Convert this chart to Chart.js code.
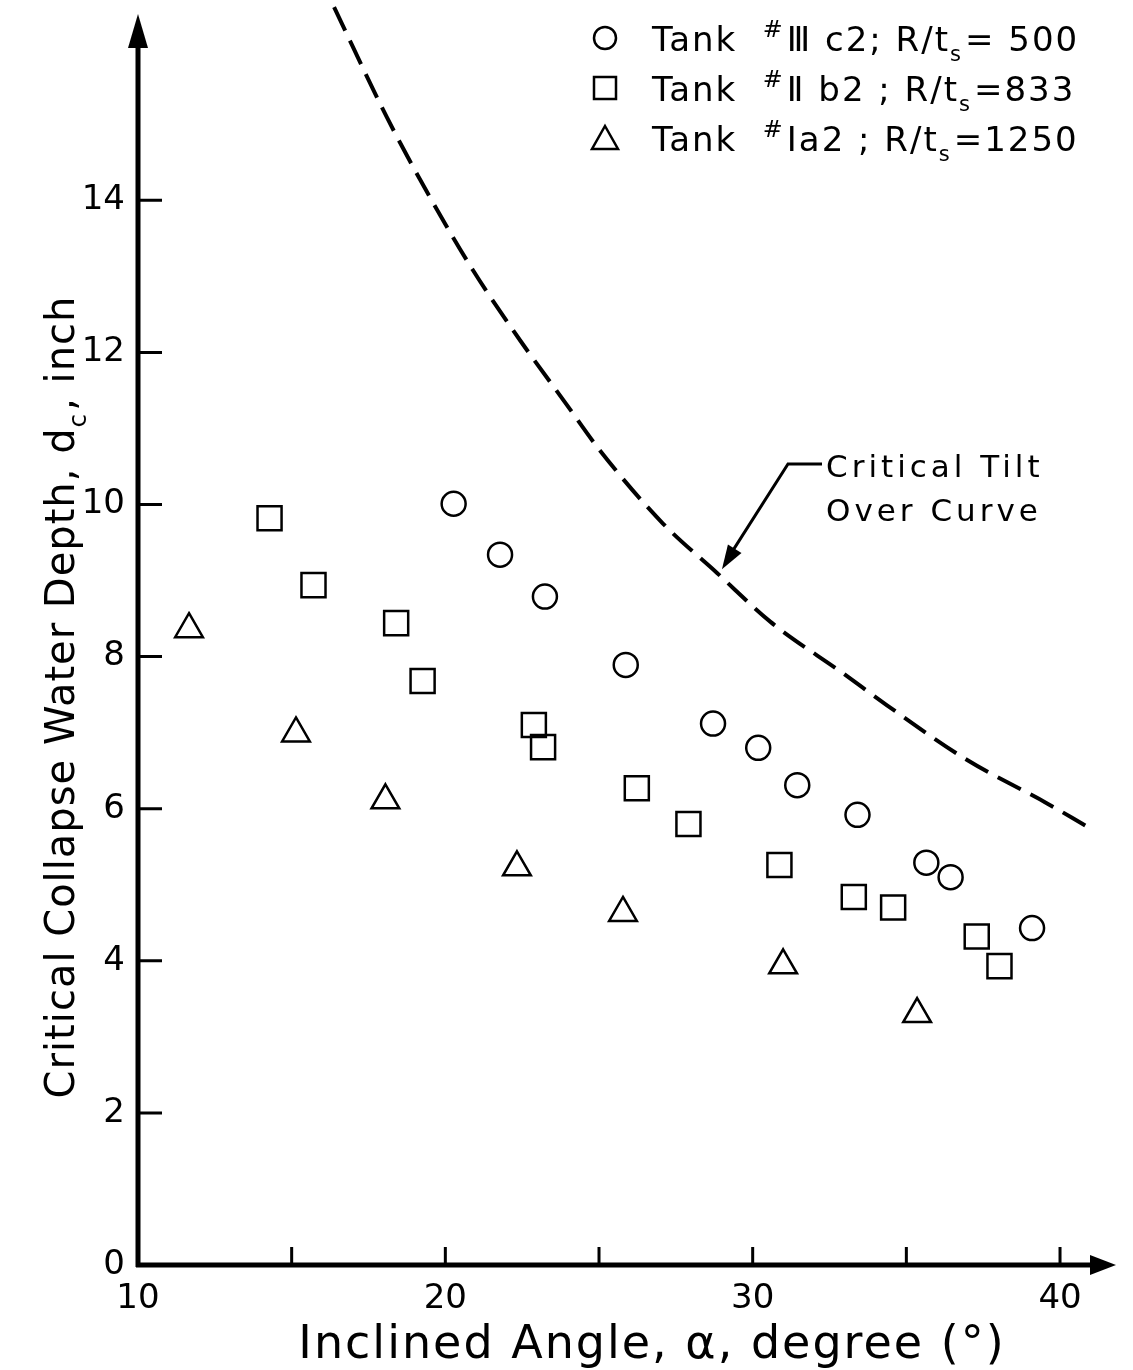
<!DOCTYPE html>
<html>
<head>
<meta charset="utf-8">
<script src="https://cdn.jsdelivr.net/npm/chart.js@4.4.0/dist/chart.umd.min.js"></script>
<style>
  html, body { margin: 0; padding: 0; background: #fff; }
  #wrap { width: 1133px; height: 1370px; }
</style>
</head>
<body>
<div id="wrap"><canvas id="tankChart" width="1133" height="1370"></canvas></div>
<script>
// Tank #IIIc2, R/ts = 500 (circles)
const tank3X = [20.27, 21.78, 23.24, 25.87, 28.71, 30.18, 31.45, 33.41, 35.65, 36.44, 39.09];
const tank3Y = [10.01, 9.34, 8.79, 7.89, 7.12, 6.80, 6.31, 5.92, 5.29, 5.10, 4.43];
// Tank #IIb2, R/ts = 833 (squares)
const tank2X = [14.28, 15.71, 18.40, 19.26, 22.88, 23.18, 26.23, 27.91, 30.87, 33.29, 34.57, 37.29, 38.03];
const tank2Y = [9.82, 8.94, 8.44, 7.68, 7.10, 6.81, 6.27, 5.80, 5.26, 4.84, 4.70, 4.32, 3.93];
// Tank #Ia2, R/ts = 1250 (triangles)
const tank1X = [11.66, 15.14, 18.05, 22.33, 25.78, 30.99, 35.35];
const tank1Y = [8.36, 6.99, 6.11, 5.23, 4.63, 3.94, 3.30];
// critical tilt over curve (dashed)
const curveX = [16.38, 18.10, 19.50, 20.90, 22.43, 23.90, 25.03, 27.08, 28.84, 30.57, 32.94, 34.37, 36.98, 39.58, 40.82];
const curveY = [16.54, 15.09, 14.04, 13.08, 12.16, 11.34, 10.71, 9.75, 9.10, 8.46, 7.78, 7.36, 6.64, 6.07, 5.78];

const xTicks = [10, 15, 20, 25, 30, 35, 40];
const xLabels = [10, 20, 30, 40];
const yTicks = [0, 2, 4, 6, 8, 10, 12, 14];

const FONT = "'DejaVu Sans', sans-serif";
const toPts = (xs, ys) => xs.map((x, i) => ({ x: x, y: ys[i] }));

function richText(ctx, parts, x, y, size) {
  // parts: [text, kind] kind = '' | 'sup' | 'sub'
  let cx = x;
  parts.forEach(([t, kind]) => {
    let s = size, dy = 0;
    if (kind === 'sup') { s = size * 0.7; dy = -size * 0.42; }
    if (kind === 'sub') { s = size * 0.62; dy = size * 0.3; }
    ctx.font = s + 'px ' + FONT;
    ctx.fillText(t, cx, y + dy);
    cx += ctx.measureText(t).width + (kind ? 2 : 0);
  });
}

const decor = {
  id: 'decor',
  afterDraw(chart) {
    const ctx = chart.ctx;
    const xs = chart.scales.x, ys = chart.scales.y;
    const ox = xs.getPixelForValue(10), oy = ys.getPixelForValue(0);
    ctx.save();
    ctx.strokeStyle = '#000';
    ctx.fillStyle = '#000';
    ctx.lineCap = 'butt';

    // axes
    ctx.lineWidth = 5;
    ctx.beginPath();
    ctx.moveTo(ox, oy + 2);
    ctx.lineTo(ox, 40);
    ctx.moveTo(ox - 2, oy);
    ctx.lineTo(1095, oy);
    ctx.stroke();
    // arrow heads
    ctx.beginPath();
    ctx.moveTo(ox, 14); ctx.lineTo(ox - 10, 48); ctx.lineTo(ox + 10, 48); ctx.closePath();
    ctx.fill();
    ctx.beginPath();
    ctx.moveTo(1116, oy); ctx.lineTo(1090, oy - 10); ctx.lineTo(1090, oy + 10); ctx.closePath();
    ctx.fill();

    // ticks (inside)
    ctx.lineWidth = 3;
    ctx.beginPath();
    yTicks.forEach(v => {
      if (v === 0) return;
      const py = ys.getPixelForValue(v);
      ctx.moveTo(ox, py); ctx.lineTo(ox + 24, py);
    });
    xTicks.forEach(v => {
      if (v === 10) return;
      const px = xs.getPixelForValue(v);
      ctx.moveTo(px, oy); ctx.lineTo(px, oy - 18);
    });
    ctx.stroke();

    // axis titles
    ctx.textBaseline = 'alphabetic';
    ctx.letterSpacing = '2px';
    ctx.font = '46px ' + FONT;
    ctx.textAlign = 'center';
    ctx.fillText('Inclined Angle, \u03b1, degree (\u00b0)', 652, 1358);

    ctx.save();
    ctx.translate(74, 697);
    ctx.rotate(-Math.PI / 2);
    ctx.textAlign = 'left';
    ctx.letterSpacing = '1px';
    const yParts = [['Critical Collapse Water Depth, d', ''], ['c', 'sub'], [', inch', '']];
    let w = 0;
    yParts.forEach(([t, k]) => {
      ctx.font = (k ? 40 * 0.62 : 40) + 'px ' + FONT;
      w += ctx.measureText(t).width + (k ? 2 : 0);
    });
    richText(ctx, yParts, -w / 2, 0, 40);
    ctx.restore();

    // legend
    ctx.textAlign = 'left';
    ctx.letterSpacing = '2px';
    const rows = [
      { shape: 'circle', parts: [['Tank  ', ''], ['#', 'sup'], ['\u2162 c2; R/t', ''], ['s', 'sub'], ['= 500', '']] },
      { shape: 'rect', parts: [['Tank  ', ''], ['#', 'sup'], ['\u2161 b2 ; R/t', ''], ['s', 'sub'], ['=833', '']] },
      { shape: 'triangle', parts: [['Tank  ', ''], ['#', 'sup'], ['\u2160a2 ; R/t', ''], ['s', 'sub'], ['=1250', '']] }
    ];
    rows.forEach((r, i) => {
      const cy = 38 + i * 50;
      ctx.lineWidth = 2.5;
      ctx.beginPath();
      if (r.shape === 'circle') ctx.arc(605, cy, 11, 0, Math.PI * 2);
      if (r.shape === 'rect') ctx.rect(594, cy - 11, 22, 22);
      if (r.shape === 'triangle') { ctx.moveTo(605, cy - 12); ctx.lineTo(618, cy + 11); ctx.lineTo(592, cy + 11); ctx.closePath(); }
      ctx.stroke();
      richText(ctx, r.parts, 652, cy + 13, 34);
    });

    // annotation with leader arrow
    const tipX = xs.getPixelForValue(29.0), tipY = ys.getPixelForValue(9.15);
    ctx.font = '31px ' + FONT;
    ctx.letterSpacing = '4px';
    ctx.fillText('Critical Tilt', 826, 477);
    ctx.fillText('Over Curve', 826, 521);
    ctx.lineWidth = 3;
    ctx.beginPath();
    ctx.moveTo(822, 464); ctx.lineTo(788, 464); ctx.lineTo(tipX + 8, tipY - 14);
    ctx.stroke();
    const ang = Math.atan2(tipY - 464, tipX - 788);
    ctx.beginPath();
    ctx.moveTo(tipX, tipY);
    ctx.lineTo(tipX - 24 * Math.cos(ang) + 8 * Math.sin(ang), tipY - 24 * Math.sin(ang) - 8 * Math.cos(ang));
    ctx.lineTo(tipX - 24 * Math.cos(ang) - 8 * Math.sin(ang), tipY - 24 * Math.sin(ang) + 8 * Math.cos(ang));
    ctx.closePath();
    ctx.fill();
    ctx.restore();
  }
};

const ctx = document.getElementById('tankChart').getContext('2d');
new Chart(ctx, {
  type: 'scatter',
  data: {
    datasets: [
      {
        label: 'Critical Tilt Over Curve',
        type: 'line',
        data: toPts(curveX, curveY),
        borderColor: '#000',
        borderWidth: 4,
        borderDash: [26, 11],
        pointRadius: 0,
        cubicInterpolationMode: 'monotone',
        fill: false,
        clip: false
      },
      {
        label: 'Tank #IIIc2; R/ts=500',
        data: toPts(tank3X, tank3Y),
        pointStyle: 'circle',
        pointRadius: 12,
        borderColor: '#000',
        backgroundColor: 'rgba(0,0,0,0)',
        borderWidth: 2.5
      },
      {
        label: 'Tank #IIb2; R/ts=833',
        data: toPts(tank2X, tank2Y),
        pointStyle: 'rect',
        pointRadius: 17,
        borderColor: '#000',
        backgroundColor: 'rgba(0,0,0,0)',
        borderWidth: 2.5
      },
      {
        label: 'Tank #Ia2; R/ts=1250',
        data: toPts(tank1X, tank1Y),
        pointStyle: 'triangle',
        pointRadius: 16,
        borderColor: '#000',
        backgroundColor: 'rgba(0,0,0,0)',
        borderWidth: 2.5
      }
    ]
  },
  options: {
    responsive: false,
    animation: false,
    layout: { padding: { left: 0, right: 11, top: 2, bottom: 0 } },
    plugins: { legend: { display: false }, tooltip: { enabled: false } },
    scales: {
      x: {
        type: 'linear',
        min: 10,
        max: 41.74,
        afterBuildTicks: s => { s.ticks = xTicks.map(v => ({ value: v })); },
        afterFit: s => { s.height = 105; },
        grid: { display: false },
        border: { display: false },
        ticks: {
          autoSkip: false,
          maxRotation: 0,
          padding: 6,
          color: '#000',
          font: { family: FONT, size: 34 },
          callback: v => (xLabels.includes(v) ? String(v) : '')
        }
      },
      y: {
        type: 'linear',
        min: 0,
        max: 16.30,
        afterBuildTicks: s => { s.ticks = yTicks.map(v => ({ value: v })); },
        afterFit: s => { s.width = 138; },
        grid: { display: false },
        border: { display: false },
        ticks: {
          autoSkip: false,
          padding: 5,
          color: '#000',
          font: { family: FONT, size: 34 },
          callback: v => String(v)
        }
      }
    }
  },
  plugins: [decor]
});
</script>
</body>
</html>
